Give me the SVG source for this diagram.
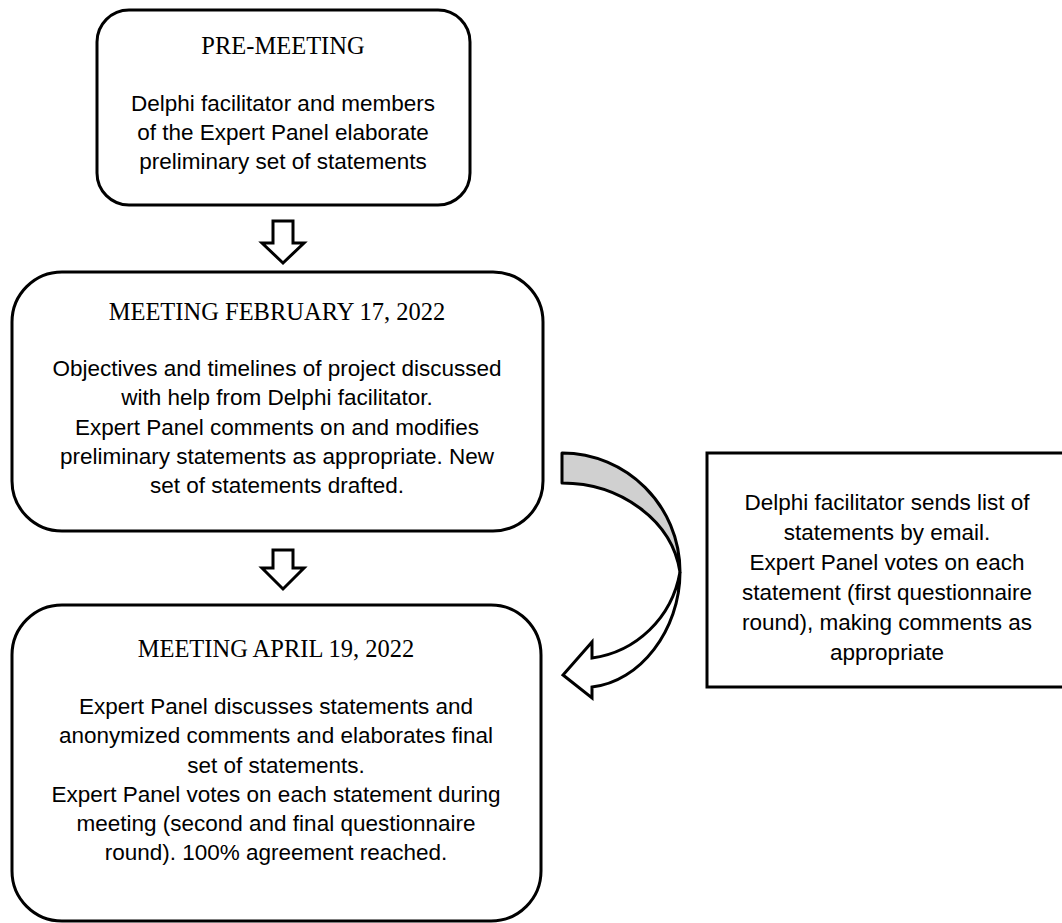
<svg xmlns="http://www.w3.org/2000/svg" width="1062" height="923" viewBox="0 0 1062 923">
<style>
.box{fill:#fff;stroke:#000;stroke-width:3}
.title{font-family:"Liberation Serif",serif;font-size:24.5px;text-anchor:middle;fill:#000}
.body{font-family:"Liberation Sans",sans-serif;font-size:22.5px;text-anchor:middle;fill:#000}
.arr{fill:#fff;stroke:#000;stroke-width:3;stroke-linejoin:miter}
</style>
<rect width="1062" height="923" fill="#fff"/>
<g id="pre-meeting">
<rect class="box" x="97" y="10" width="373" height="195" rx="32"/>
<text class="title" x="283" y="54">PRE-MEETING</text>
<text class="body" x="283" y="111">Delphi facilitator and members</text>
<text class="body" x="283" y="140">of the Expert Panel elaborate</text>
<text class="body" x="283" y="169">preliminary set of statements</text>
</g>
<g id="meeting-feb">
<rect class="box" x="12" y="272" width="531" height="259" rx="50"/>
<text class="title" x="277" y="320">MEETING FEBRUARY 17, 2022</text>
<text class="body" x="277" y="376">Objectives and timelines of project discussed</text>
<text class="body" x="277" y="405">with help from Delphi facilitator.</text>
<text class="body" x="277" y="435">Expert Panel comments on and modifies</text>
<text class="body" x="277" y="464">preliminary statements as appropriate. New</text>
<text class="body" x="277" y="493">set of statements drafted.</text>
</g>
<g id="meeting-apr">
<rect class="box" x="12" y="605" width="529" height="316" rx="50"/>
<text class="title" x="276" y="657">MEETING APRIL 19, 2022</text>
<text class="body" x="276" y="714">Expert Panel discusses statements and</text>
<text class="body" x="276" y="743">anonymized comments and elaborates final</text>
<text class="body" x="276" y="773">set of statements.</text>
<text class="body" x="276" y="802">Expert Panel votes on each statement during</text>
<text class="body" x="276" y="831">meeting (second and final questionnaire</text>
<text class="body" x="276" y="860">round). 100% agreement reached.</text>
</g>
<g id="email-round">
<rect class="box" x="707" y="453" width="360" height="234"/>
<text class="body" x="887" y="510">Delphi facilitator sends list of</text>
<text class="body" x="887" y="540">statements by email.</text>
<text class="body" x="887" y="570">Expert Panel votes on each</text>
<text class="body" x="887" y="600">statement (first questionnaire</text>
<text class="body" x="887" y="630">round), making comments as</text>
<text class="body" x="887" y="660">appropriate</text>
</g>
<g id="connectors">
<path class="arr" d="M273,221 H293 V243 H304 L283,263 L262,243 H273 Z"/>
<path class="arr" d="M273,550 H293 V568 H304 L283,589 L262,568 H273 Z"/>
<path fill="#d0d0d0" stroke="#000" stroke-width="3" stroke-linejoin="round" d="M562,453 C626,453 680,505 680,572 C672,520 620,483 562,483 Z"/>
<path class="arr" d="M680,572 C680,630 640,682 592,687 L592,698 L563,675 L592,642 L592,658 C636,652 672,618 680,572 Z"/>
</g>
</svg>
